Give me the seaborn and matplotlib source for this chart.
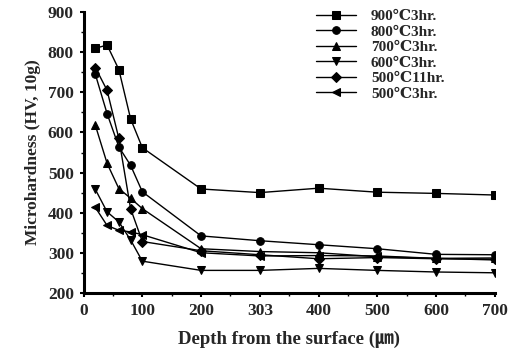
import numpy as np
import pandas as pd
import matplotlib
matplotlib.use("Agg")
import matplotlib.pyplot as plt
import seaborn as sns
from matplotlib.ticker import MultipleLocator

depth = [20, 40, 60, 80, 100, 200, 300, 400, 500, 600, 700]
s900_3 = [810, 818, 757, 634, 562, 459, 450, 461, 451, 448, 444]
s800_3 = [745, 647, 564, 518, 452, 342, 330, 320, 310, 296, 295]
s700_3 = [618, 523, 460, 436, 410, 310, 303, 300, 290, 286, 287]
s600_3 = [458, 402, 377, 332, 279, 256, 256, 261, 256, 252, 250]
s500_11 = [762, 705, 585, 410, 328, 305, 295, 285, 288, 285, 284]
s500_3 = [413, 368, 356, 352, 345, 300, 292, 293, 292, 286, 282]

labels = ["900\u21033hr.", "800\u21033hr.", "700\u21033hr.",
          "600\u21033hr.", "500\u210311hr.", "500\u21033hr."]
series = [s900_3, s800_3, s700_3, s600_3, s500_11, s500_3]
xtick_vals = [0, 100, 200, 300, 400, 500, 600, 700]
xtick_labels = ["0", "100", "200", "303", "400", "500", "600", "700"]

rows = []
for lab, vals in zip(labels, series):
    for d, v in zip(depth, vals):
        rows.append({"depth": d, "hv": v, "series": lab})
df = pd.DataFrame(rows)

sns.set_theme(style="white")
plt.rcParams['font.family'] = ['Liberation Serif', 'DejaVu Serif', 'Noto Sans CJK JP']
plt.rcParams['font.weight'] = 'bold'

fig = plt.figure(figsize=(5.16, 3.58), dpi=100)
ax = fig.add_axes([0.162, 0.182, 0.797, 0.784])

markers = ['s', 'o', '^', 'v', 'D', '<']
sns.lineplot(data=df, x="depth", y="hv", hue="series", style="series",
             markers=markers, dashes=False, palette=['black'] * 6,
             hue_order=labels, style_order=labels,
             markersize=5.5, linewidth=1.0, markeredgecolor='black', ax=ax)

ax.set_xlim(0, 700)
ax.set_ylim(200, 900)
ax.set_xticks(xtick_vals)
ax.set_xticklabels(xtick_labels)
ax.set_yticks(range(200, 901, 100))
ax.xaxis.set_minor_locator(MultipleLocator(50))
ax.yaxis.set_minor_locator(MultipleLocator(50))
ax.tick_params(axis='both', which='major', direction='out', length=3, width=1.5,
               labelsize=12.5, pad=4, color='black', bottom=True, left=True)
ax.tick_params(axis='both', which='minor', direction='out', length=2, width=1.0,
               color='black', bottom=True, left=True)
for t in ax.get_xticklabels() + ax.get_yticklabels():
    t.set_fontweight('bold')

for side in ['top', 'right']:
    ax.spines[side].set_visible(False)
for side in ['left', 'bottom']:
    ax.spines[side].set_color('black')
    ax.spines[side].set_linewidth(2.2)

ax.set_xlabel("Depth from the surface (\u339b)", fontsize=13.5, fontweight='bold', labelpad=9)
ax.set_ylabel("Microhardness (HV, 10g)", fontsize=12.5, fontweight='bold', labelpad=5)

leg = ax.legend(loc='upper left', bbox_to_anchor=(0.565, 1.01), frameon=False,
                fontsize=11, handlelength=2.6, labelspacing=0.12, handletextpad=1.0,
                borderaxespad=0, borderpad=0)
for t in leg.get_texts():
    t.set_fontweight('bold')

fig.savefig("out.png", dpi=100, facecolor='white')
